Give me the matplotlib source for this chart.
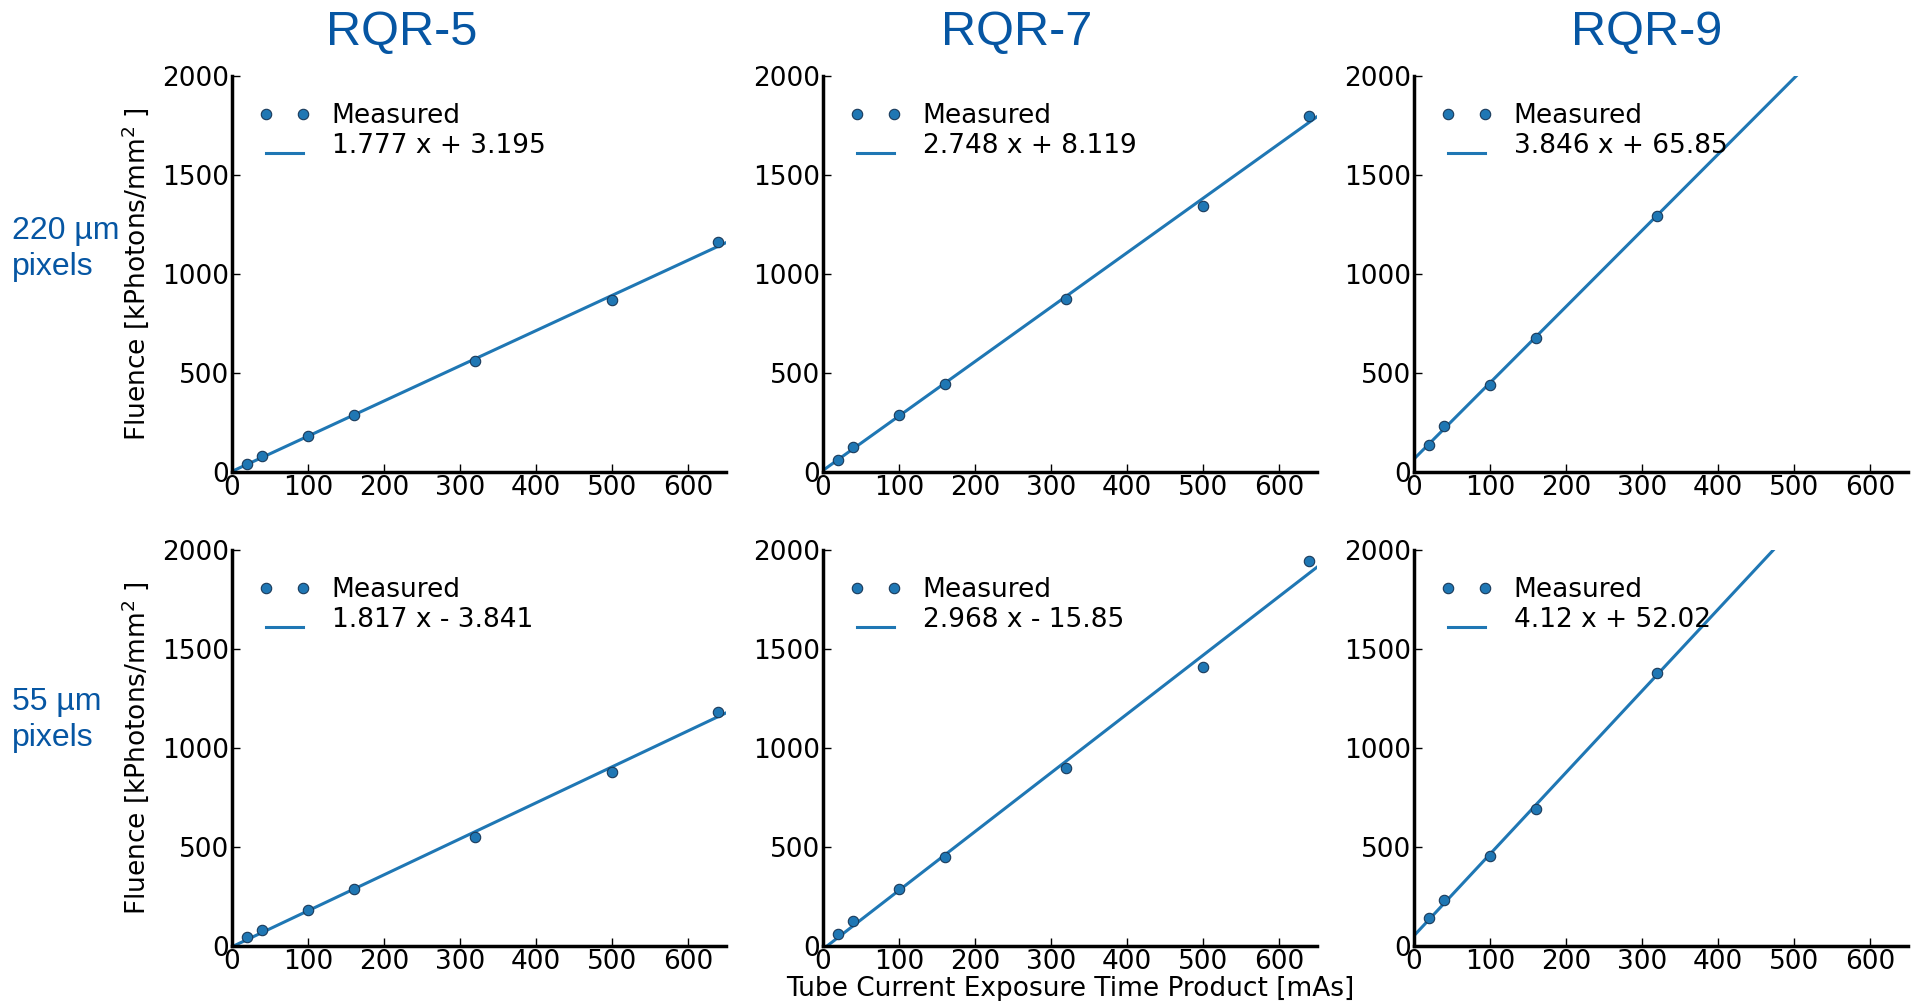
import matplotlib
matplotlib.use("Agg")
import matplotlib.pyplot as plt
from matplotlib.legend_handler import HandlerLine2D

# ---------------- data ----------------
mas = [20, 40, 100, 160, 320, 500, 640]
mas_rqr9 = [20, 40, 100, 160, 320]

titles = ["RQR-5", "RQR-7", "RQR-9"]
row_labels = ["220 \u00b5m\npixels", "55 \u00b5m\npixels"]

# 220 um pixels (top row)
y220_rqr5 = [42, 80, 183, 288, 559, 869, 1161]
y220_rqr7 = [63, 124, 288, 446, 876, 1342, 1800]
y220_rqr9 = [136, 234, 441, 678, 1293]
# 55 um pixels (bottom row)
y55_rqr5 = [46, 80, 184, 288, 553, 878, 1184]
y55_rqr7 = [63, 125, 288, 447, 897, 1408, 1944]
y55_rqr9 = [139, 232, 457, 694, 1377]

# linear fits: slope, intercept, label
fit_slopes = [[1.777, 2.748, 3.846], [1.817, 2.968, 4.12]]
fit_intercepts = [[3.195, 8.119, 65.85], [-3.841, -15.85, 52.02]]
fit_labels = [["1.777 x + 3.195", "2.748 x + 8.119", "3.846 x + 65.85"],
              ["1.817 x - 3.841", "2.968 x - 15.85", "4.12 x + 52.02"]]

x_ticks = [0, 100, 200, 300, 400, 500, 600]
y_ticks = [0, 500, 1000, 1500, 2000]

ydata = [[y220_rqr5, y220_rqr7, y220_rqr9], [y55_rqr5, y55_rqr7, y55_rqr9]]
xdata = [mas, mas, mas_rqr9]


class LoweredLineHandler(HandlerLine2D):
    """Legend line handle drawn a little below its label (as in the reference)."""
    def create_artists(self, legend, orig_handle, xdescent, ydescent,
                       width, height, fontsize, trans):
        artists = super().create_artists(legend, orig_handle, xdescent, ydescent,
                                         width, height, fontsize, trans)
        for a in artists:
            yd = a.get_ydata()
            a.set_ydata([v - 0.5 * height for v in yd])
        return artists


# ---------------- figure ----------------
W, H = 1917, 1001
fig = plt.figure(figsize=(W / 100, H / 100), dpi=100)

blue = "#1f77b4"
title_blue = "#0656a3"

lefts = [232, 823, 1414]
width = 494
tops = [76, 550]
height = 396

for r in range(2):
    for c in range(3):
        ax = fig.add_axes([lefts[c] / W, 1 - (tops[r] + height) / H, width / W, height / H])
        ax.plot(xdata[c], ydata[r][c], "o", ls="none", color=blue, markersize=7.5,
                markeredgecolor="#1a3a5a", markeredgewidth=0.8, label="Measured", zorder=3)
        fit_line = ax.axline((0, fit_intercepts[r][c]), slope=fit_slopes[r][c], color=blue,
                             lw=2.2, label=fit_labels[r][c], zorder=2)
        ax.set_xlim(0, 650)
        ax.set_ylim(0, 2000)
        ax.set_xticks(x_ticks)
        ax.set_yticks(y_ticks)
        for s in ["top", "right"]:
            ax.spines[s].set_visible(False)
        for s in ["left", "bottom"]:
            ax.spines[s].set_linewidth(2.5)
        ax.tick_params(direction="in", length=6, width=1, labelsize=19, pad=2,
                       top=False, right=False)
        ax.legend(loc="upper left", numpoints=2, frameon=False, fontsize=19,
                  handlelength=2.0, handletextpad=0.78, labelspacing=0.15,
                  bbox_to_anchor=(0.032, 0.958), borderaxespad=0,
                  handler_map={fit_line: LoweredLineHandler()})
        if c == 0:
            ax.set_ylabel("Fluence [kPhotons/mm$^2$ ]", fontsize=19, labelpad=8)
        if r == 1 and c == 1:
            ax.set_xlabel("Tube Current Exposure Time Product [mAs]", fontsize=19, labelpad=1)

# column titles
title_x = [402, 1017, 1647]
for c in range(3):
    fig.text(title_x[c] / W, 1 - 33 / H, titles[c], ha="center", va="center",
             fontsize=35, color=title_blue, family="Liberation Sans")

# row labels
row_y = [249, 720]
for r in range(2):
    fig.text(12 / W, 1 - row_y[r] / H, row_labels[r], ha="left", va="center",
             fontsize=23, color=title_blue, family="Liberation Sans", linespacing=1.25)

fig.savefig("out.png", dpi=100)
